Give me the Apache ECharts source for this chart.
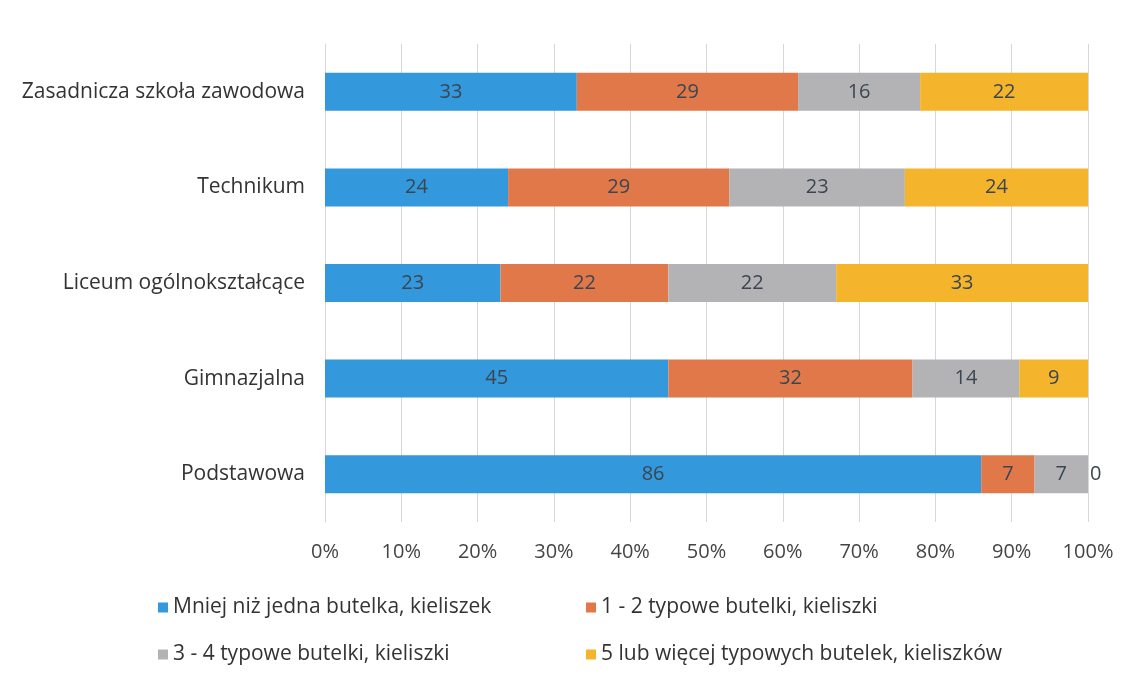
<!DOCTYPE html>
<html lang="pl">
<head>
<meta charset="UTF-8" />
<title>Wykształcenie a spożycie</title>
<style>
  body { margin: 0; background: #fff; }
  #chart { width: 1128px; height: 678px; }
</style>
</head>
<body>
<div id="chart"></div>
<script src="https://cdn.jsdelivr.net/npm/echarts@6/dist/echarts.min.js"></script>
<script>
  // Dane (od dołu do góry, jak w osi kategorii)
  const categories = ['Podstawowa', 'Gimnazjalna', 'Liceum ogólnokształcące', 'Technikum', 'Zasadnicza szkoła zawodowa'];
  const seriesNames = [
    'Mniej niż jedna butelka, kieliszek',
    '1 - 2 typowe butelki, kieliszki',
    '3 - 4 typowe butelki, kieliszki',
    '5 lub więcej typowych butelek, kieliszków'
  ];
  const lessThanOne = [86, 45, 23, 24, 33];
  const oneTwo = [7, 32, 22, 29, 29];
  const threeFour = [7, 14, 22, 23, 16];
  const fiveMore = [0, 9, 33, 24, 22];
  const xTicks = [0, 10, 20, 30, 40, 50, 60, 70, 80, 90, 100];

  const colors = ['#3398dc', '#e0784a', '#b3b3b6', '#f4b42c'];
  const values = [lessThanOne, oneTwo, threeFour, fiveMore];
  const font = 'Open Sans, Noto Sans, sans-serif';
  const fs = 20;
  const fsText = 21;

  const chart = echarts.init(document.getElementById('chart'));

  const series = values.map((vals, i) => ({
    name: seriesNames[i],
    type: 'bar',
    stack: 'total',
    barWidth: 38,
    itemStyle: { color: colors[i] },
    label: {
      show: true,
      position: 'inside',
      color: '#3b4650',
      fontSize: fs,
      fontFamily: font
    },
    data: vals.map(v => v === 0
      ? { value: v, label: { position: 'right', distance: 2 } }
      : v)
  }));

  // Legenda w dwóch rzędach
  const legendPos = [[153, 592], [581, 592], [153, 639], [581, 639]];
  const legends = seriesNames.map((n, i) => ({
    data: [n],
    left: legendPos[i][0],
    top: legendPos[i][1],
    icon: 'rect',
    itemWidth: 10,
    itemHeight: 10,
    itemGap: 6,
    textStyle: { fontSize: fsText, color: '#333', fontFamily: font }
  }));

  const option = {
    animation: false,
    grid: { left: 325, right: 40, top: 44, bottom: 156 },
    legend: legends,
    xAxis: {
      type: 'value',
      min: 0,
      max: 100,
      interval: 10,
      axisLine: { show: false },
      axisTick: { show: false },
      axisLabel: {
        margin: 20,
        fontSize: fs,
        color: '#444',
        fontFamily: font,
        formatter: v => (xTicks.includes(v) ? v + '%' : '')
      },
      splitLine: { lineStyle: { color: '#d6d6dc' } }
    },
    yAxis: {
      type: 'category',
      data: categories,
      axisLine: { show: true, lineStyle: { color: '#d6d6dc' } },
      axisTick: { show: false },
      axisLabel: {
        margin: 20,
        fontSize: fsText,
        color: '#333',
        fontFamily: font
      }
    },
    series: series
  };

  chart.setOption(option);
</script>
</body>
</html>
